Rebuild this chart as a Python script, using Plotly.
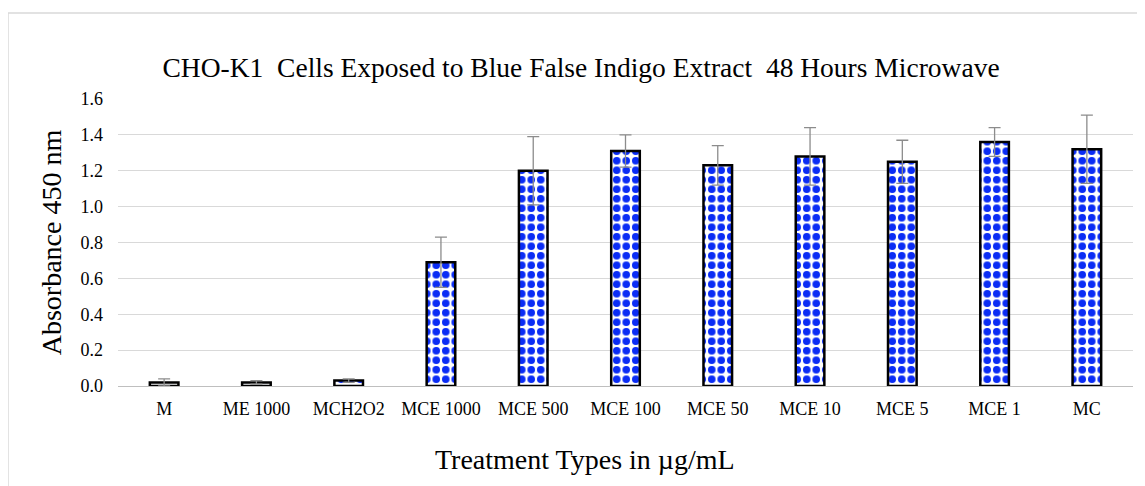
import plotly.graph_objects as go

categories = ["M", "ME 1000", "MCH2O2", "MCE 1000", "MCE 500", "MCE 100",
              "MCE 50", "MCE 10", "MCE 5", "MCE 1", "MC"]
absorbance = [0.02, 0.02, 0.03, 0.69, 1.20, 1.31, 1.23, 1.28, 1.25, 1.36, 1.32]
std_err = [0.02, 0.01, 0.01, 0.14, 0.19, 0.09, 0.11, 0.16, 0.12, 0.08, 0.19]

serif = "Liberation Serif, Times New Roman, serif"
nb = "\u00a0"

fig = go.Figure()

fig.add_trace(
    go.Bar(
        x=categories,
        y=absorbance,
        width=0.31,
        marker=dict(
            color="white",
            line=dict(color="black", width=2.5),
            pattern=dict(shape=".", fgcolor="#0a2cf5", bgcolor="white",
                         fgopacity=1, size=9.5, solidity=0.5),
        ),
        error_y=dict(type="data", array=std_err, visible=True,
                     color="#8c8c8c", thickness=1.3, width=6),
        showlegend=False,
    )
)

# the page body adds an 8px offset, so the figure is a bit smaller than the window
fig.update_layout(
    title=dict(
        text=f"CHO-K1 {nb}Cells Exposed to Blue False Indigo Extract {nb}48 Hours Microwave",
        x=0.504, xanchor="center", xref="container",
        y=1 - 59 / 478, yref="container", yanchor="middle",
        font=dict(family=serif, size=27.5, color="black"),
    ),
    width=1137,
    height=478,
    margin=dict(l=110, r=12, t=91, b=100),
    plot_bgcolor="white",
    paper_bgcolor="white",
    font=dict(family=serif, size=18, color="black"),
    shapes=[
        dict(type="rect", xref="paper", yref="paper",
             x0=-0.1084, x1=1.2, y0=-0.6, y1=1.2997,
             line=dict(color="#d9d9d9", width=1.5), layer="below"),
    ],
    annotations=[
        dict(text="Treatment Types in µg/mL", xref="paper", yref="paper",
             x=0.46, y=-0.255, xanchor="center", yanchor="middle",
             showarrow=False, font=dict(family=serif, size=28, color="black")),
    ],
)

fig.update_xaxes(
    showline=True, linecolor="#bfbfbf", linewidth=1,
    tickfont=dict(family=serif, size=18, color="black"),
    ticks="", ticklabelstandoff=6,
    automargin=False,
)

fig.update_yaxes(
    title=dict(text="Absorbance 450 nm",
               font=dict(family=serif, size=28, color="black"), standoff=10),
    range=[0, 1.6],
    dtick=0.2,
    tickformat=".1f",
    showgrid=True, gridcolor="#d9d9d9", gridwidth=1,
    zeroline=False,
    ticks="", ticklabelstandoff=14,
    tickfont=dict(family=serif, size=18, color="black"),
    automargin=False,
)

fig.write_html("out.html")
